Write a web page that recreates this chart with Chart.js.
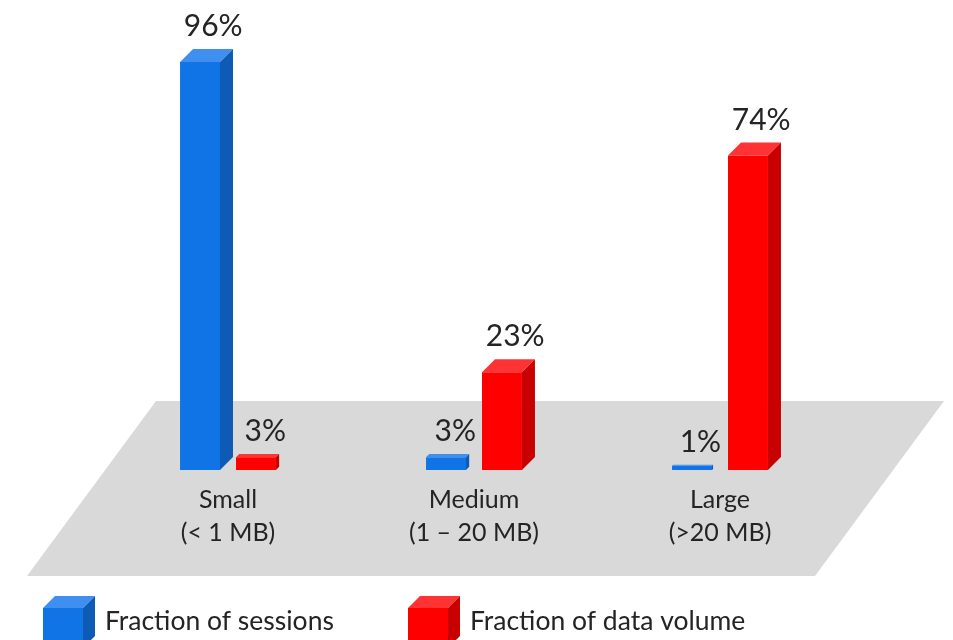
<!DOCTYPE html>
<html>
<head>
<meta charset="utf-8">
<script src="https://cdn.jsdelivr.net/npm/chart.js@4.4.0/dist/chart.umd.min.js"></script>
<style>
  html, body { margin: 0; padding: 0; background: #fff; }
  #wrap { width: 953px; height: 640px; }
</style>
</head>
<body>
<div id="wrap"><canvas id="chart"></canvas></div>
<script>
// data
var categories = [["Small", "(< 1 MB)"], ["Medium", "(1 – 20 MB)"], ["Large", "(>20 MB)"]];
var seriesNames = ["Fraction of sessions", "Fraction of data volume"];
var sessions = [96, 3, 1];
var dataVolume = [3, 23, 74];

// colours: front, side, top
var blue = ["#1174e6", "#0d5bb5", "#3f8ff0"];
var red = ["#ff0000", "#c80000", "#ff3333"];

var fontName = "Lato, 'Open Sans', sans-serif";
var textColor = "#242424";

function depthOf(h) {
    return Math.min(13, h / 4);
}

// grey floor under the bars
var floorPlugin = {
    id: 'floor',
    beforeDraw: function (chart) {
        var c = chart.ctx, b = chart.chartArea.bottom;
        c.save();
        c.fillStyle = '#d9d9d9';
        c.beginPath();
        c.moveTo(156, b - 69);
        c.lineTo(944, b - 69);
        c.lineTo(815, b + 106);
        c.lineTo(27, b + 106);
        c.closePath();
        c.fill();
        c.restore();
    }
};

// side + top faces and value labels
var boxPlugin = {
    id: 'box3d',
    afterDatasetsDraw: function (chart) {
        var c = chart.ctx;
        chart.data.datasets.forEach(function (ds, i) {
            var meta = chart.getDatasetMeta(i);
            meta.data.forEach(function (bar, j) {
                var p = bar.getProps(['x', 'y', 'base', 'width'], true);
                var x1 = p.x - p.width / 2, x2 = p.x + p.width / 2;
                var top = p.y, base = p.base;
                var d = depthOf(base - top);
                c.save();
                c.fillStyle = ds.topColor;
                c.beginPath();
                c.moveTo(x1, top);
                c.lineTo(x1 + d, top - d);
                c.lineTo(x2 + d, top - d);
                c.lineTo(x2, top);
                c.closePath();
                c.fill();
                c.fillStyle = ds.sideColor;
                c.beginPath();
                c.moveTo(x2, top);
                c.lineTo(x2 + d, top - d);
                c.lineTo(x2 + d, base - d);
                c.lineTo(x2, base);
                c.closePath();
                c.fill();
                c.fillStyle = textColor;
                c.font = "30px " + fontName;
                c.textAlign = 'center';
                c.textBaseline = 'alphabetic';
                c.fillText(ds.data[j] + '%', p.x + 8 + d * 0.4, top - d - 13);
                c.restore();
            });
        });
    }
};

// legend with little cubes at the bottom
var legendPlugin = {
    id: 'cubeLegend',
    afterDraw: function (chart) {
        var c = chart.ctx;
        var xs = [43, 408];
        chart.data.datasets.forEach(function (ds, i) {
            var x = xs[i], y = 608, w = 40, d = 12;
            c.save();
            c.fillStyle = ds.backgroundColor;
            c.fillRect(x, y, w, 40);
            c.fillStyle = ds.topColor;
            c.beginPath();
            c.moveTo(x, y); c.lineTo(x + d, y - d); c.lineTo(x + w + d, y - d); c.lineTo(x + w, y);
            c.closePath(); c.fill();
            c.fillStyle = ds.sideColor;
            c.beginPath();
            c.moveTo(x + w, y); c.lineTo(x + w + d, y - d); c.lineTo(x + w + d, y + 40 - d); c.lineTo(x + w, y + 40);
            c.closePath(); c.fill();
            c.fillStyle = textColor;
            c.font = "26.5px " + fontName;
            c.textAlign = 'left';
            c.textBaseline = 'alphabetic';
            c.fillText(ds.label, x + w + d + 10, 630);
            c.restore();
        });
    }
};

var ctx = document.getElementById('chart');

var chartGraph = new Chart(ctx, {
    type: 'bar',
    data: {
        labels: categories,
        datasets: [{
            label: seriesNames[0],
            data: sessions,
            backgroundColor: blue[0],
            sideColor: blue[1],
            topColor: blue[2]
        },
        {
            label: seriesNames[1],
            data: dataVolume,
            backgroundColor: red[0],
            sideColor: red[1],
            topColor: red[2]
        }]
    },
    options: {
        responsive: true,
        maintainAspectRatio: false,
        animation: false,
        layout: { padding: { left: 105, right: 110, top: 45, bottom: 78 } },
        categoryPercentage: 0.455,
        barPercentage: 0.714,
        plugins: {
            legend: { display: false },
            tooltip: { enabled: false }
        },
        scales: {
            x: {
                grid: { display: false, drawTicks: false },
                border: { display: false },
                ticks: {
                    padding: 13,
                    color: textColor,
                    font: { family: fontName, size: 25, lineHeight: 1.32 }
                }
            },
            y: {
                display: false,
                min: 0,
                max: 100
            }
        }
    },
    plugins: [floorPlugin, boxPlugin, legendPlugin]
});
</script>
</body>
</html>
